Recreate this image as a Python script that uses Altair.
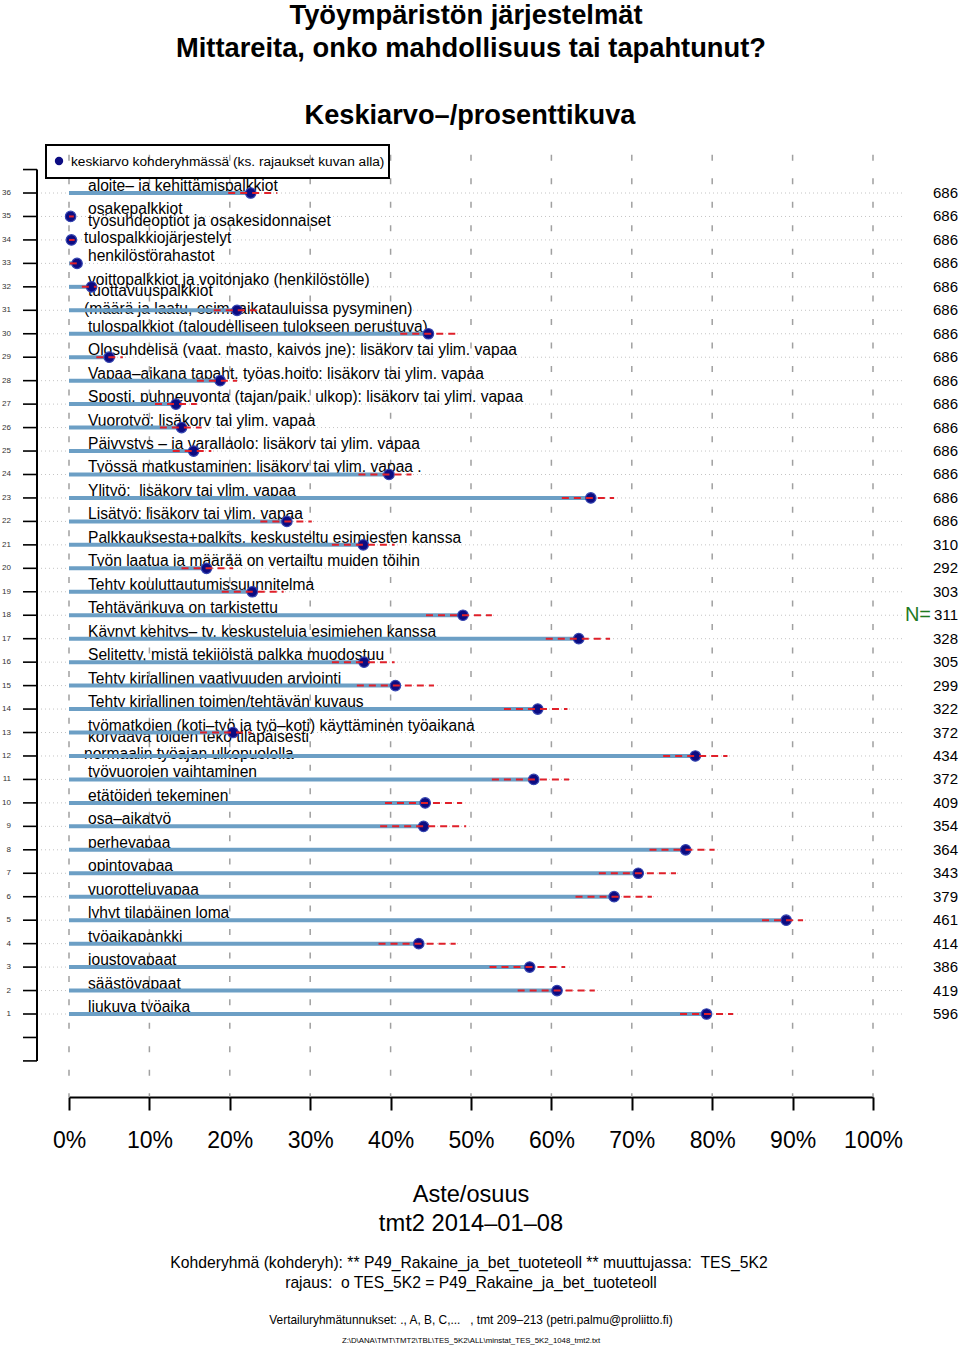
import altair as alt
import pandas as pd

# ---------------- data ----------------
rows = list(range(36, 0, -1))
labels = [
    "aloite– ja kehittämispalkkiot",
    "osakepalkkiot",
    "työsuhdeoptiot ja osakesidonnaiset\ntulospalkkiojärjestelyt",
    "henkilöstörahastot",
    "voittopalkkiot ja voitonjako (henkilöstölle)",
    "tuottavuuspalkkiot\n(määrä ja laatu, esim. aikatauluissa pysyminen)",
    "tulospalkkiot (taloudelliseen tulokseen perustuva)",
    "Olosuhdelisä (vaat. masto, kaivos jne): lisäkorv tai ylim. vapaa",
    "Vapaa–aikana tapaht. työas.hoito: lisäkorv tai ylim. vapaa",
    "Sposti, puhneuvonta (tajan/paik. ulkop): lisäkorv tai ylim. vapaa",
    "Vuorotyö: lisäkorv tai ylim. vapaa",
    "Päivystys – ja varallaolo: lisäkorv tai ylim. vapaa",
    "Työssä matkustaminen: lisäkorv tai ylim. vapaa .",
    "Ylityö:  lisäkorv tai ylim. vapaa",
    "Lisätyö: lisäkorv tai ylim. vapaa",
    "Palkkauksesta+palkits. keskusteltu esimiesten kanssa",
    "Työn laatua ja määrää on vertailtu muiden töihin",
    "Tehty kouluttautumissuunnitelma",
    "Tehtävänkuva on tarkistettu",
    "Käynyt kehitys– tv. keskusteluja esimiehen kanssa",
    "Selitetty, mistä tekijöistä palkka muodostuu",
    "Tehty kirjallinen vaativuuden arviointi",
    "Tehty kirjallinen toimen/tehtävän kuvaus",
    "työmatkojen (koti–työ ja työ–koti) käyttäminen työaikana",
    "korvaava töiden teko tilapäisesti\nnormaalin työajan ulkopuolella",
    "työvuorojen vaihtaminen",
    "etätöiden tekeminen",
    "osa–aikatyö",
    "perhevapaa",
    "opintovapaa",
    "vuorotteluvapaa",
    "lyhyt tilapäinen loma",
    "työaikapankki",
    "joustovapaat",
    "säästövapaat",
    "liukuva työaika",
]
means = [22.6, 0.2, 0.3, 1.0, 2.8, 20.9, 44.7, 5.0, 18.8, 13.3, 14.0, 15.5,
         39.8, 64.9, 27.1, 36.6, 17.1, 22.8, 49.0, 63.4, 36.7, 40.6, 58.3, 20.4,
         77.9, 57.8, 44.3, 44.1, 76.7, 70.8, 67.8, 89.2, 43.5, 57.3, 60.7, 79.3]
ci_lo = [19.8, 0.0, 0.0, 0.1, 1.6, 18.0, 41.2, 3.4, 15.9, 10.7, 11.3, 12.9,
         36.0, 61.3, 23.8, 32.7, 14.0, 19.0, 44.4, 59.3, 32.7, 35.8, 54.1, 16.3,
         73.9, 52.6, 39.3, 38.7, 72.2, 65.9, 63.0, 86.2, 38.5, 52.3, 55.8, 76.0]
ci_hi = [25.9, 0.6, 0.7, 1.4, 3.4, 23.8, 48.6, 6.7, 20.9, 15.9, 16.5, 17.7,
         42.6, 67.8, 30.2, 40.5, 20.4, 26.7, 52.6, 67.3, 40.5, 45.4, 62.0, 22.7,
         81.9, 62.2, 48.9, 49.4, 80.3, 75.5, 72.5, 91.3, 48.1, 61.7, 65.4, 82.6]
n_values = [686] * 15 + [310, 292, 303, 311, 328, 305, 299, 322, 372, 434,
                         372, 409, 354, 364, 343, 379, 461, 414, 386, 419, 596]
x_ticks = list(range(0, 101, 10))


def keep_spaces(s):
    return s.replace("  ", " \u00a0")


# ---------------- tables ----------------
df = pd.DataFrame({"row": rows, "label": [keep_spaces(s) for s in labels],
                   "mean": means, "lo": ci_lo, "hi": ci_hi, "n": n_values})
df["zero"] = 0.0
single = df[~df["label"].str.contains("\n")][["row", "label"]]
multi = df[df["label"].str.contains("\n")]
first_lines = pd.DataFrame({"row": multi["row"], "label": multi["label"].str.split("\n").str[0]})
second_lines = pd.DataFrame({"row": multi["row"], "label": multi["label"].str.split("\n").str[1]})
axis_rows = pd.DataFrame({"row": list(range(min(rows) - 2, max(rows) + 2))})
axis_span = pd.DataFrame({"y0": [min(rows) - 2], "y1": [max(rows) + 1]})
ticks_df = pd.DataFrame({"pct": x_ticks})
n_mid = pd.DataFrame({"row": [rows[len(rows) // 2]]})
one = pd.DataFrame({"a": [0]})

W, H = 804, 949
row_px = 23.457
y_top = (1037.46 - 148) / row_px
y_bot = (1037.46 - 1097) / row_px

xs = alt.Scale(domain=[0, 100], nice=False, zero=False)
ys = alt.Scale(domain=[y_bot, y_top], nice=False, zero=False)
FONT = "Liberation Sans"
LAB = 15.6

X_axis = alt.Axis(values=x_ticks, labelExpr="datum.value + '%'", title=None,
                  grid=False, domainColor="black", domainWidth=2,
                  tickColor="black", tickWidth=2, tickSize=13,
                  labelFontSize=23, labelFont=FONT, labelColor="black",
                  labelPadding=30, labelBaseline="middle", labelFlush=False,
                  labelOverlap=False)

base = alt.Chart(df)
Yrow = alt.Y("row:Q", scale=ys, axis=None)

vgrid = alt.Chart(ticks_df).mark_rule(color="#a0a0a0", strokeWidth=1.5,
                                      strokeDash=[6, 17.46], strokeDashOffset=16.66).encode(
    x=alt.X("pct:Q", scale=xs, axis=X_axis),
    y=alt.value(0), y2=alt.value(H))

hgrid = base.mark_rule(color="#c4c4c4", strokeWidth=1, strokeDash=[1, 3]).encode(
    y=Yrow, x=alt.value(-32), x2=alt.value(835))

lax = alt.Chart(axis_span).mark_rule(color="black", strokeWidth=2).encode(
    y=alt.Y("y0:Q", scale=ys, axis=None), y2="y1:Q", x=alt.value(-32))
lticks = alt.Chart(axis_rows).mark_rule(color="black", strokeWidth=1.6).encode(
    y=Yrow, x=alt.value(-46), x2=alt.value(-32))
ltlabels = base.mark_text(align="right", baseline="middle", fontSize=8,
                          font=FONT, color="#333333").encode(
    y=Yrow, x=alt.value(-58), text="row:Q")

lab_single = alt.Chart(single).mark_text(align="left", baseline="alphabetic", dy=-2.0,
                                         fontSize=LAB, font=FONT, color="black").encode(
    y=Yrow, x=alt.value(19), text="label:N")
lab_first = alt.Chart(first_lines).mark_text(align="left", baseline="alphabetic", dy=-14.2,
                                             fontSize=LAB, font=FONT, color="black").encode(
    y=Yrow, x=alt.value(19), text="label:N")
lab_second = alt.Chart(second_lines).mark_text(align="left", baseline="alphabetic", dy=3.4,
                                               fontSize=LAB, font=FONT, color="black").encode(
    y=Yrow, x=alt.value(15), text="label:N")

bars = base.mark_rule(color="#6c9fc5", strokeWidth=4).encode(
    y=Yrow, x=alt.X("zero:Q", scale=xs, axis=X_axis), x2="mean:Q")

dots = base.mark_point(filled=True, shape="circle", size=110, color="#0c0c82",
                       stroke="#3545b0", strokeWidth=1.2, opacity=1).encode(
    y=Yrow, x=alt.X("mean:Q", scale=xs, axis=X_axis))

ci = base.mark_rule(color="#e0202a", strokeWidth=2, strokeDash=[7, 5]).encode(
    y=Yrow, x=alt.X("lo:Q", scale=xs, axis=X_axis), x2="hi:Q")

ntext = base.mark_text(align="right", baseline="middle", fontSize=15,
                       font=FONT, color="black").encode(
    y=Yrow, x=alt.value(889), text="n:Q")
neq = alt.Chart(n_mid).mark_text(align="right", baseline="middle", fontSize=20,
                                 font=FONT, color="#1f7a1f").encode(
    y=Yrow, x=alt.value(862), text=alt.value("N="))

legend_box = alt.Chart(one).mark_rect(filled=False, stroke="black", strokeWidth=2).encode(
    x=alt.value(-23), x2=alt.value(320), y=alt.value(-3), y2=alt.value(30))
legend_dot = alt.Chart(one).mark_point(filled=True, shape="circle", size=70,
                                       color="#0c0c82", opacity=1).encode(
    x=alt.value(-10), y=alt.value(13))
legend_txt = alt.Chart(one).mark_text(align="left", baseline="middle", fontSize=13.7,
                                      font=FONT, color="black").encode(
    x=alt.value(2), y=alt.value(13.5),
    text=alt.value("keskiarvo kohderyhmässä (ks. rajaukset kuvan alla)"))


def txt(s, x, y, size, bold=False, baseline="middle"):
    return alt.Chart(one).mark_text(align="center", baseline=baseline, fontSize=size,
                                    font=FONT, fontWeight="bold" if bold else "normal",
                                    color="black").encode(
        x=alt.value(x), y=alt.value(y), text=alt.value(keep_spaces(s)))


annots = [
    txt("Työympäristön järjestelmät", 397, -124, 27.3, True, "alphabetic"),
    txt("Mittareita, onko mahdollisuus tai tapahtunut?", 402, -91, 27.3, True, "alphabetic"),
    txt("Keskiarvo–/prosenttikuva", 401, -24, 27.2, True, "alphabetic"),
    txt("Aste/osuus", 402, 1047, 23.6),
    txt("tmt2 2014–01–08", 402, 1076, 23.7),
    txt("Kohderyhmä (kohderyh): ** P49_Rakaine_ja_bet_tuoteteoll ** muuttujassa:  TES_5K2", 400, 1115, 15.7),
    txt("rajaus:  o TES_5K2 = P49_Rakaine_ja_bet_tuoteteoll", 402, 1135, 15.7),
    txt("Vertailuryhmätunnukset: ., A, B, C,...   , tmt 209–213 (petri.palmu@proliitto.fi)", 402, 1172, 11.9),
    txt("Z:\\D\\ANA\\TMT\\TMT2\\TBL\\TES_5K2\\ALL\\minstat_TES_5K2_1048_tmt2.txt", 402, 1193, 7.8),
]

chart = alt.layer(
    vgrid, hgrid, lax, lticks, ltlabels,
    lab_single, lab_first, lab_second,
    bars, dots, ci, ntext, neq,
    legend_box, legend_dot, legend_txt, *annots
).properties(
    width=W, height=H,
    autosize=alt.AutoSizeParams(type="none"),
    padding={"left": 69, "top": 148, "right": 87, "bottom": 249},
    background="white",
).configure_view(stroke=None)

chart.save("out.html", embed_options={"renderer": "svg", "actions": False})
